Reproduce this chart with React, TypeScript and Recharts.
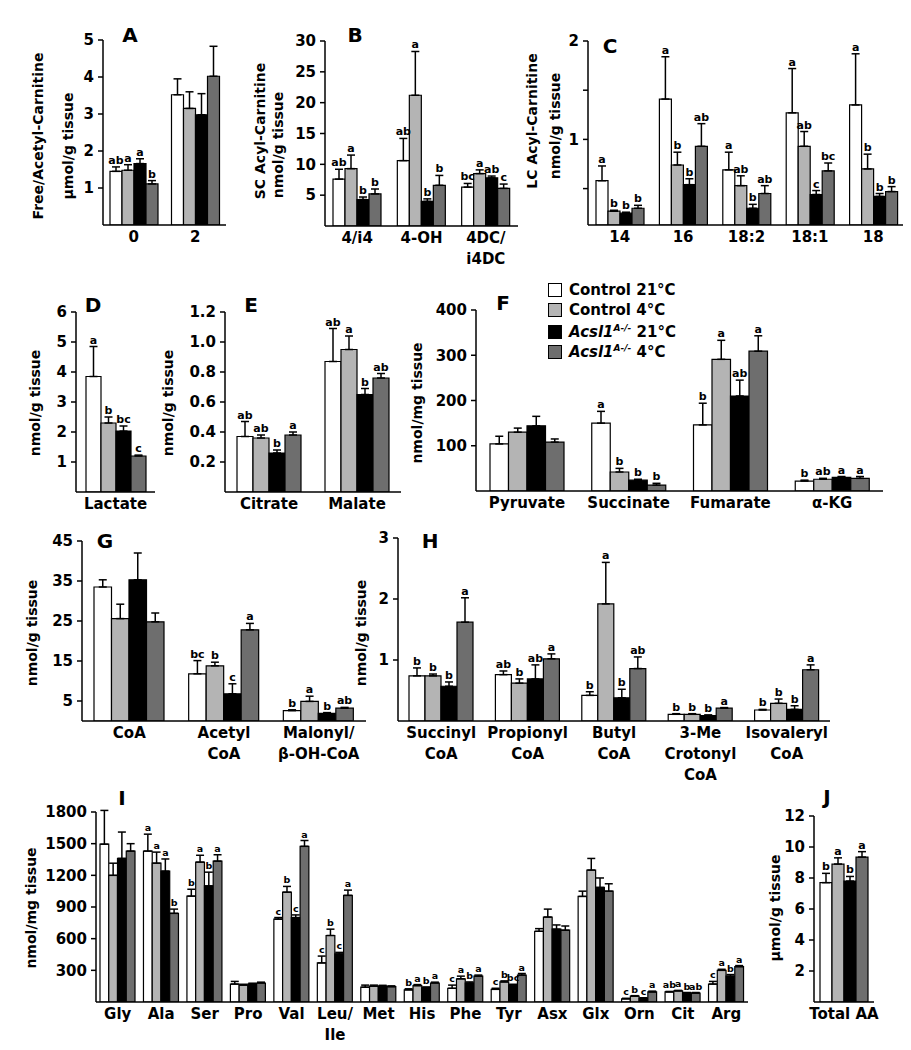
import React from "react";
import { BarChart, Bar, XAxis, YAxis, ErrorBar, LabelList } from "recharts";

const FONT = "'DejaVu Sans', 'Liberation Sans', Arial, sans-serif";
const FILLS = ["#ffffff", "#b4b4b4", "#000000", "#6e6e6e"];

// A - free/acetyl carnitine
const aCats = ["0", "2"];
const aC21 = [1.45, 3.52];
const aC21Se = [0.12, 0.43];
const aC4 = [1.48, 3.15];
const aC4Se = [0.15, 0.45];
const aK21 = [1.66, 2.98];
const aK21Se = [0.13, 0.57];
const aK4 = [1.11, 4.02];
const aK4Se = [0.09, 0.81];
const aSig = [["ab", "a", "a", "b"], ["", "", "", ""]];

// B - short chain acyl-carnitine
const bCats = ["4/i4", "4-OH", "4DC/\ni4DC"];
const bC21 = [7.6, 10.6, 6.3];
const bC21Se = [1.6, 3.6, 0.6];
const bC4 = [9.3, 21.2, 8.5];
const bC4Se = [2.2, 7.1, 0.6];
const bK21 = [4.3, 4.0, 7.8];
const bK21Se = [0.4, 0.4, 0.3];
const bK4 = [5.2, 6.6, 6.1];
const bK4Se = [0.8, 1.6, 0.7];
const bSig = [["ab", "a", "b", "b"], ["ab", "a", "b", "b"], ["bc", "a", "ab", "c"]];

// C - long chain acyl-carnitine
const cCats = ["14", "16", "18:2", "18:1", "18"];
const cC21 = [0.58, 1.41, 0.69, 1.27, 1.35];
const cC21Se = [0.15, 0.43, 0.18, 0.45, 0.52];
const cC4 = [0.27, 0.74, 0.53, 0.93, 0.7];
const cC4Se = [0.01, 0.13, 0.1, 0.15, 0.15];
const cK21 = [0.25, 0.54, 0.3, 0.44, 0.42];
const cK21Se = [0.01, 0.06, 0.04, 0.04, 0.03];
const cK4 = [0.3, 0.93, 0.45, 0.68, 0.47];
const cK4Se = [0.03, 0.23, 0.08, 0.08, 0.05];
const cSig = [
  ["a", "b", "b", "b"],
  ["a", "b", "b", "ab"],
  ["a", "ab", "b", "ab"],
  ["a", "ab", "c", "bc"],
  ["a", "b", "b", "b"],
];

// D - lactate
const dCats = ["Lactate"];
const dC21 = [3.85];
const dC21Se = [1.0];
const dC4 = [2.3];
const dC4Se = [0.2];
const dK21 = [2.03];
const dK21Se = [0.17];
const dK4 = [1.2];
const dK4Se = [0.03];
const dSig = [["a", "b", "bc", "c"]];

// E - citrate, malate
const eCats = ["Citrate", "Malate"];
const eC21 = [0.37, 0.87];
const eC21Se = [0.1, 0.22];
const eC4 = [0.36, 0.95];
const eC4Se = [0.02, 0.09];
const eK21 = [0.26, 0.65];
const eK21Se = [0.02, 0.04];
const eK4 = [0.38, 0.76];
const eK4Se = [0.02, 0.03];
const eSig = [["ab", "ab", "b", "a"], ["ab", "a", "b", "ab"]];

// F - TCA intermediates
const fCats = ["Pyruvate", "Succinate", "Fumarate", "α-KG"];
const fC21 = [104, 150, 146, 22];
const fC21Se = [17, 26, 48, 2];
const fC4 = [130, 42, 291, 26];
const fC4Se = [9, 8, 42, 2];
const fK21 = [144, 24, 210, 30];
const fK21Se = [21, 2, 35, 2];
const fK4 = [108, 13, 309, 28];
const fK4Se = [7, 4, 34, 4];
const fSig = [["", "", "", ""], ["a", "b", "b", "b"], ["b", "a", "ab", "a"], ["b", "ab", "a", "a"]];

// G - CoA esters
const gCats = ["CoA", "Acetyl\nCoA", "Malonyl/\nβ-OH-CoA"];
const gC21 = [33.5, 11.8, 2.6];
const gC21Se = [1.8, 3.3, 0.2];
const gC4 = [25.6, 13.8, 4.9];
const gC4Se = [3.6, 0.9, 1.3];
const gK21 = [35.3, 6.8, 1.9];
const gK21Se = [6.7, 2.5, 0.2];
const gK4 = [24.8, 22.8, 3.2];
const gK4Se = [2.2, 1.6, 0.2];
const gSig = [["", "", "", ""], ["bc", "b", "c", "a"], ["b", "a", "b", "ab"]];

// H - short chain CoA
const hCats = ["Succinyl\nCoA", "Propionyl\nCoA", "Butyl\nCoA", "3-Me\nCrotonyl\nCoA", "Isovaleryl\nCoA"];
const hC21 = [0.74, 0.76, 0.42, 0.11, 0.18];
const hC21Se = [0.13, 0.06, 0.06, 0.01, 0.01];
const hC4 = [0.74, 0.62, 1.92, 0.11, 0.29];
const hC4Se = [0.03, 0.07, 0.68, 0.01, 0.07];
const hK21 = [0.57, 0.69, 0.38, 0.09, 0.19];
const hK21Se = [0.07, 0.23, 0.14, 0.01, 0.06];
const hK4 = [1.62, 1.02, 0.86, 0.21, 0.84];
const hK4Se = [0.4, 0.08, 0.19, 0.01, 0.08];
const hSig = [
  ["b", "b", "b", "a"],
  ["ab", "b", "ab", "a"],
  ["b", "a", "b", "ab"],
  ["b", "b", "b", "a"],
  ["b", "b", "b", "a"],
];

// I - amino acids
const iCats = ["Gly", "Ala", "Ser", "Pro", "Val", "Leu/\nIle", "Met", "His", "Phe", "Tyr", "Asx", "Glx", "Orn", "Cit", "Arg"];
const iC21 = [1495, 1430, 1003, 170, 785, 370, 140, 115, 130, 120, 670, 1000, 30, 95, 170];
const iC21Se = [320, 160, 65, 25, 15, 65, 20, 10, 30, 10, 25, 50, 5, 5, 25];
const iC4 = [1200, 1315, 1325, 160, 1040, 630, 150, 155, 220, 190, 805, 1250, 55, 105, 300];
const iC4Se = [115, 105, 65, 8, 55, 60, 10, 10, 25, 10, 75, 110, 5, 5, 10];
const iK21 = [1360, 1240, 1100, 170, 800, 455, 150, 135, 180, 160, 690, 1085, 35, 85, 245];
const iK21Se = [250, 115, 130, 8, 25, 15, 8, 8, 10, 8, 40, 90, 5, 5, 15];
const iK4 = [1430, 840, 1335, 180, 1475, 1010, 145, 180, 245, 255, 680, 1050, 95, 85, 335];
const iK4Se = [70, 40, 60, 8, 55, 50, 8, 8, 10, 15, 40, 70, 8, 5, 10];
const iSig = [
  ["", "", "", ""],
  ["a", "a", "a", "b"],
  ["b", "a", "b", "a"],
  ["", "", "", ""],
  ["c", "b", "c", "a"],
  ["c", "b", "c", "a"],
  ["", "", "", ""],
  ["b", "a", "b", "a"],
  ["c", "a", "b", "a"],
  ["c", "b", "bc", "a"],
  ["", "", "", ""],
  ["", "", "", ""],
  ["c", "b", "c", "a"],
  ["ab", "a", "b", "ab"],
  ["c", "a", "b", "a"],
];

// J - total amino acids
const jCats = ["Total AA"];
const jC21 = [7.7];
const jC21Se = [0.6];
const jC4 = [8.9];
const jC4Se = [0.4];
const jK21 = [7.8];
const jK21Se = [0.3];
const jK4 = [9.35];
const jK4Se = [0.35];
const jSig = [["b", "a", "b", "a"]];

type PanelProps = {
  cats: string[];
  means: number[][];
  ses: number[][];
  sig: string[][];
  x0: number;
  x1: number;
  yTop: number;
  yBase: number;
  domain: [number, number];
  ticks: number[];
  fmt?: (v: number) => string;
  barSize: number;
  sigSize?: number;
};

const ML = 50;
const MT = 40;
const MR = 30;
const MB = 75;

function CatTick(props: any) {
  const { x, y, payload } = props;
  const lines = String(payload.value).split("\n");
  return (
    <text x={x} y={y} textAnchor="middle" fontFamily={FONT} fontWeight={700} fontSize={15} fill="#000">
      {lines.map((l, i) => (
        <tspan key={i} x={x} dy={i === 0 ? 9 : 21}>
          {l}
        </tspan>
      ))}
    </text>
  );
}

function Panel(p: PanelProps) {
  const plotH = p.yBase - p.yTop;
  const pxPerUnit = plotH / (p.domain[1] - p.domain[0]);
  const rows = p.cats.map((c, i) => {
    const r: any = { cat: c };
    for (let k = 0; k < 4; k++) {
      r["v" + k] = p.means[k][i];
      r["e" + k] = [0, p.ses[k][i]];
      r["s" + k] = p.sig[i][k];
    }
    return r;
  });
  const letter = (k: number) => (lp: any) => {
    const { x, y, width, value, index } = lp;
    if (!value) return null;
    const se = p.ses[k][index] ?? 0;
    return (
      <text
        x={Number(x) + Number(width) / 2}
        y={Number(y) - se * pxPerUnit - 3}
        textAnchor="middle"
        fontFamily={FONT}
        fontWeight={700}
        fontSize={p.sigSize ?? 11}
        fill="#000"
      >
        {value}
      </text>
    );
  };
  const axisStyle = { stroke: "#000", strokeWidth: 1.5 };
  return (
    <div style={{ position: "absolute", left: p.x0 - ML, top: p.yTop - MT }}>
      <BarChart
        width={p.x1 - p.x0 + ML + MR}
        height={plotH + MT + MB}
        data={rows}
        margin={{ top: MT, right: MR, left: 0, bottom: 0 }}
        barGap={0}
        barSize={p.barSize}
      >
        <XAxis dataKey="cat" height={MB} interval={0} tickLine={false} axisLine={axisStyle} tick={<CatTick />} />
        <YAxis
          type="number"
          width={ML}
          domain={p.domain}
          ticks={p.ticks}
          allowDataOverflow
          tickFormatter={p.fmt}
          tickSize={5}
          tickMargin={4}
          tickLine={axisStyle}
          axisLine={axisStyle}
          tick={{ fill: "#000", fontSize: 15, fontWeight: 700, fontFamily: FONT }}
        />
        {[0, 1, 2, 3].map((k) => (
          <Bar key={k} dataKey={"v" + k} fill={FILLS[k]} stroke="#000" strokeWidth={1.2} isAnimationActive={false}>
            <ErrorBar dataKey={"e" + k} width={4} stroke="#000" strokeWidth={1.5} direction="y" isAnimationActive={false} />
            <LabelList dataKey={"s" + k} content={letter(k)} />
          </Bar>
        ))}
      </BarChart>
    </div>
  );
}

function Txt({ x, y, text, size = 14, rotate = false }: { x: number; y: number; text: string; size?: number; rotate?: boolean }) {
  return (
    <div
      style={{
        position: "absolute",
        left: x,
        top: y,
        transform: `translate(-50%, -50%)${rotate ? " rotate(-90deg)" : ""}`,
        whiteSpace: "nowrap",
        fontFamily: FONT,
        fontWeight: 700,
        fontSize: size,
        lineHeight: 1,
        color: "#000",
      }}
    >
      {text}
    </div>
  );
}

const LEGEND = [
  { name: "Control", tail: " 21°C", ko: false },
  { name: "Control", tail: " 4°C", ko: false },
  { name: "Acsl1", tail: " 21°C", ko: true },
  { name: "Acsl1", tail: " 4°C", ko: true },
];

function Legend() {
  const rowsY = [282, 302, 324, 344];
  return (
    <>
      {LEGEND.map((l, i) => (
        <div
          key={i}
          style={{
            position: "absolute",
            left: 540,
            top: rowsY[i] - 9,
            height: 18,
            display: "flex",
            alignItems: "center",
            fontFamily: FONT,
            fontWeight: 700,
            fontSize: 15,
            whiteSpace: "nowrap",
          }}
        >
          <span style={{ width: 12, height: 12, border: "1px solid #000", background: FILLS[i], marginRight: 7 }} />
          {l.ko ? (
            <span>
              <i>{l.name}</i>
              <sup style={{ fontSize: 9, fontStyle: "italic" }}>A-/-</sup>
              {l.tail}
            </span>
          ) : (
            <span>
              {l.name}
              {l.tail}
            </span>
          )}
        </div>
      ))}
    </>
  );
}

export default function App() {
  return (
    <div style={{ position: "relative", width: 911, height: 1050, background: "#fff", overflow: "hidden" }}>
      <Panel cats={aCats} means={[aC21, aC4, aK21, aK4]} ses={[aC21Se, aC4Se, aK21Se, aK4Se]} sig={aSig}
        x0={95} x1={218} yTop={32} yBase={217} domain={[0, 5]} ticks={[1, 2, 3, 4, 5]} barSize={12} />
      <Panel cats={bCats} means={[bC21, bC4, bK21, bK4]} ses={[bC21Se, bC4Se, bK21Se, bK4Se]} sig={bSig}
        x0={317} x1={510} yTop={33} yBase={218} domain={[0, 30]} ticks={[5, 10, 15, 20, 25, 30]} barSize={12} />
      <Panel cats={cCats} means={[cC21, cC4, cK21, cK4]} ses={[cC21Se, cC4Se, cK21Se, cK4Se]} sig={cSig}
        x0={580} x1={897} yTop={33} yBase={217} domain={[0.13, 2]} ticks={[0.5, 1, 1.5, 2]}
        fmt={(v) => (v === 1 || v === 2 ? String(v) : "")} barSize={12} />
      <Panel cats={dCats} means={[dC21, dC4, dK21, dK4]} ses={[dC21Se, dC4Se, dK21Se, dK4Se]} sig={dSig}
        x0={68} x1={147} yTop={304} yBase={484} domain={[0, 6]} ticks={[1, 2, 3, 4, 5, 6]} barSize={15} />
      <Panel cats={eCats} means={[eC21, eC4, eK21, eK4]} ses={[eC21Se, eC4Se, eK21Se, eK4Se]} sig={eSig}
        x0={217} x1={393} yTop={304} yBase={484} domain={[0, 1.2]} ticks={[0.2, 0.4, 0.6, 0.8, 1.0, 1.2]}
        fmt={(v) => v.toFixed(1)} barSize={16} />
      <Panel cats={fCats} means={[fC21, fC4, fK21, fK4]} ses={[fC21Se, fC4Se, fK21Se, fK4Se]} sig={fSig}
        x0={468} x1={875} yTop={302} yBase={483} domain={[0, 400]} ticks={[100, 200, 300, 400]} barSize={18.5} />
      <Panel cats={gCats} means={[gC21, gC4, gK21, gK4]} ses={[gC21Se, gC4Se, gK21Se, gK4Se]} sig={gSig}
        x0={74} x1={358} yTop={533} yBase={713} domain={[0, 45]} ticks={[5, 15, 25, 35, 45]} barSize={17.5} />
      <Panel cats={hCats} means={[hC21, hC4, hK21, hK4]} ses={[hC21Se, hC4Se, hK21Se, hK4Se]} sig={hSig}
        x0={390} x1={822} yTop={530} yBase={713} domain={[0, 3]} ticks={[1, 2, 3]} barSize={16} />
      <Panel cats={iCats} means={[iC21, iC4, iK21, iK4]} ses={[iC21Se, iC4Se, iK21Se, iK4Se]} sig={iSig}
        x0={88} x1={740} yTop={804} yBase={994} domain={[0, 1800]} ticks={[300, 600, 900, 1200, 1500, 1800]}
        barSize={8.75} sigSize={9.5} />
      <Panel cats={jCats} means={[jC21, jC4, jK21, jK4]} ses={[jC21Se, jC4Se, jK21Se, jK4Se]} sig={jSig}
        x0={806} x1={866} yTop={808} yBase={994} domain={[0, 12]} ticks={[2, 4, 6, 8, 10, 12]} barSize={12} />

      <Txt x={122} y={27} text="A" size={20} />
      <Txt x={347} y={27} text="B" size={20} />
      <Txt x={602} y={38} text="C" size={20} />
      <Txt x={85} y={297} text="D" size={20} />
      <Txt x={243} y={297} text="E" size={20} />
      <Txt x={495} y={295} text="F" size={20} />
      <Txt x={97} y={533} text="G" size={20} />
      <Txt x={422} y={533} text="H" size={20} />
      <Txt x={114} y={790} text="I" size={20} />
      <Txt x={819} y={789} text="J" size={20} />

      <Txt x={30} y={128} text="Free/Acetyl-Carnitine" rotate />
      <Txt x={60} y={138} text="µmol/g tissue" rotate />
      <Txt x={252} y={123} text="SC Acyl-Carnitine" rotate />
      <Txt x={270} y={137} text="nmol/g tissue" rotate />
      <Txt x={524} y={113} text="LC Acyl-Carnitine" rotate />
      <Txt x={547} y={118} text="nmol/g tissue" rotate />
      <Txt x={27} y={395} text="nmol/g tissue" rotate />
      <Txt x={160} y={395} text="nmol/g tissue" rotate />
      <Txt x={409} y={395} text="nmol/mg tissue" rotate />
      <Txt x={24} y={625} text="nmol/g tissue" rotate />
      <Txt x={353} y={625} text="nmol/g tissue" rotate />
      <Txt x={23} y={900} text="nmol/mg tissue" rotate />
      <Txt x={767} y={900} text="µmol/g tissue" rotate />

      <Legend />
    </div>
  );
}
